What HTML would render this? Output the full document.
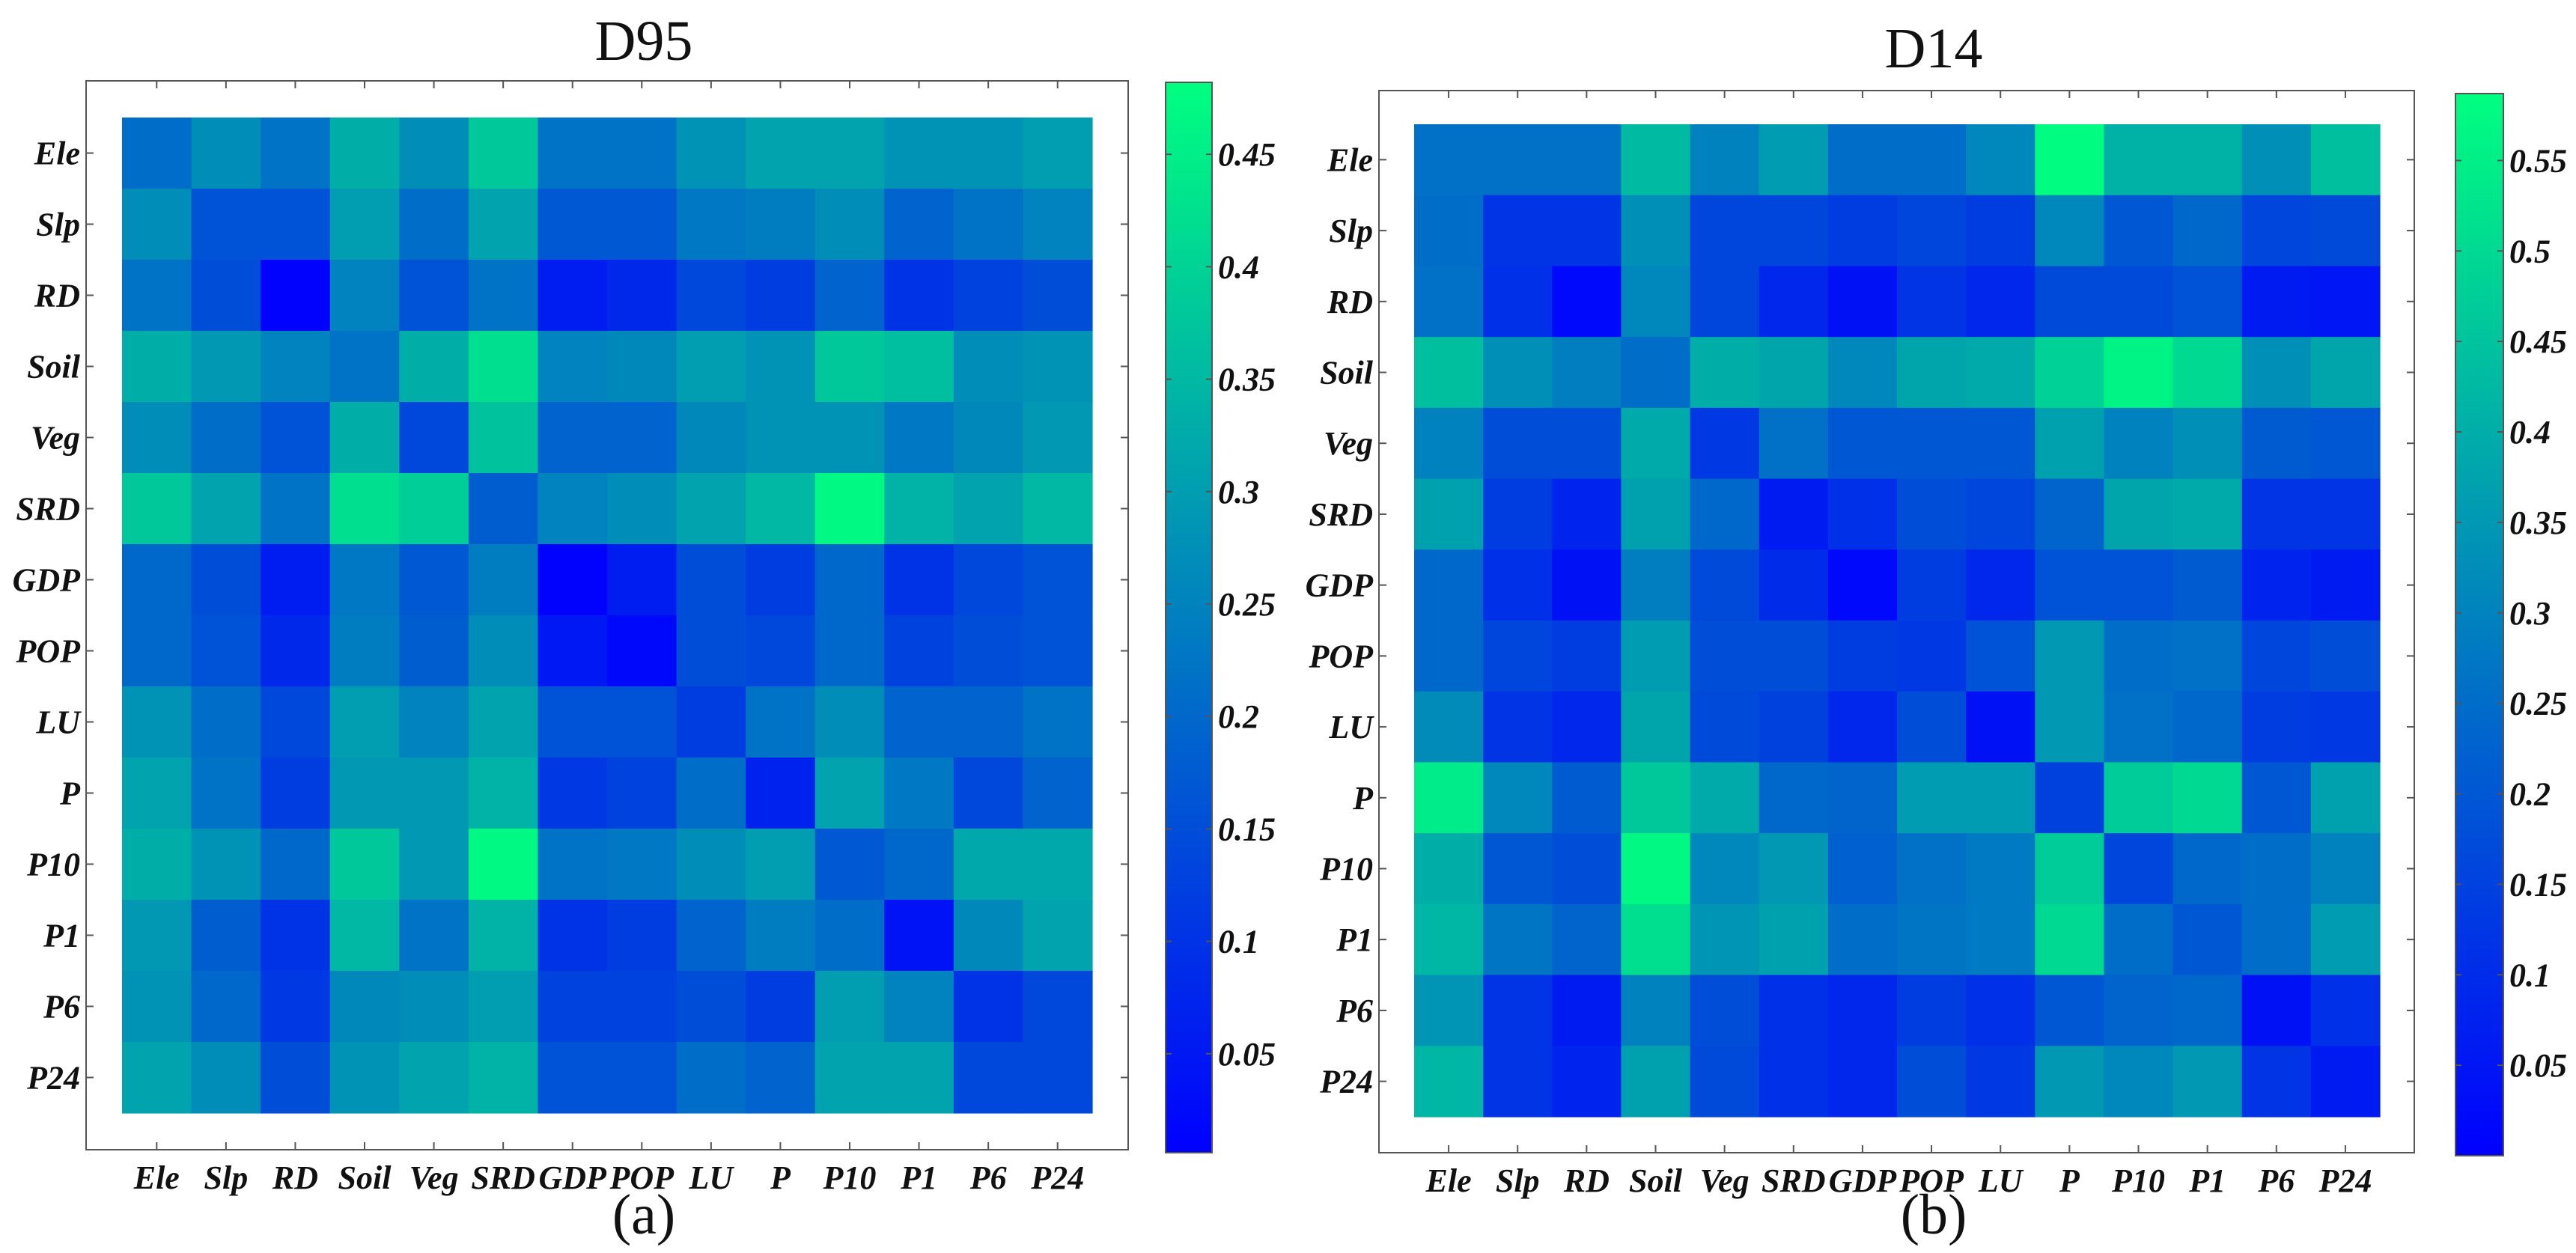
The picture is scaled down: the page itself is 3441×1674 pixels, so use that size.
<!DOCTYPE html>
<html><head><meta charset="utf-8">
<style>
html,body{margin:0;padding:0;background:#fff;}
svg{display:block;}
text{font-family:"Liberation Serif","Times New Roman",serif;}
.tk{font-style:italic;font-weight:bold;font-size:44px;fill:#111;}
.ttl{font-size:76px;fill:#111;}
</style></head>
<body>
<svg id="chart" width="3441" height="1674" viewBox="0 0 3441 1674" xmlns="http://www.w3.org/2000/svg"></svg>
<script>
const categories = ["Ele","Slp","RD","Soil","Veg","SRD","GDP","POP","LU","P","P10","P1","P6","P24"];
const d95Values = [
[0.21,0.27,0.22,0.33,0.27,0.38,0.22,0.22,0.28,0.31,0.31,0.28,0.28,0.30],
[0.27,0.16,0.16,0.30,0.21,0.31,0.17,0.17,0.23,0.24,0.27,0.19,0.22,0.25],
[0.22,0.15,0.01,0.25,0.16,0.22,0.06,0.08,0.14,0.12,0.19,0.10,0.13,0.15],
[0.33,0.29,0.25,0.22,0.33,0.42,0.25,0.26,0.30,0.28,0.38,0.36,0.27,0.28],
[0.27,0.21,0.16,0.33,0.14,0.37,0.19,0.19,0.26,0.28,0.28,0.23,0.26,0.29],
[0.38,0.31,0.22,0.42,0.39,0.18,0.25,0.27,0.31,0.35,0.47,0.34,0.31,0.35],
[0.20,0.15,0.06,0.23,0.17,0.24,0.01,0.06,0.15,0.12,0.20,0.10,0.14,0.16],
[0.20,0.16,0.08,0.24,0.18,0.27,0.05,0.02,0.15,0.14,0.20,0.13,0.15,0.16],
[0.28,0.21,0.14,0.30,0.25,0.31,0.16,0.16,0.12,0.22,0.27,0.19,0.19,0.22],
[0.31,0.22,0.12,0.29,0.29,0.34,0.11,0.13,0.21,0.07,0.31,0.23,0.14,0.19],
[0.33,0.28,0.20,0.38,0.29,0.47,0.22,0.23,0.27,0.30,0.17,0.20,0.32,0.32],
[0.29,0.18,0.10,0.35,0.22,0.34,0.10,0.12,0.19,0.24,0.21,0.04,0.26,0.31],
[0.28,0.20,0.11,0.26,0.27,0.30,0.13,0.13,0.15,0.12,0.30,0.25,0.10,0.14],
[0.31,0.27,0.15,0.28,0.31,0.34,0.16,0.16,0.21,0.19,0.31,0.31,0.14,0.14]];
const d14Values = [
[0.26,0.26,0.26,0.43,0.30,0.36,0.25,0.25,0.31,0.58,0.41,0.41,0.33,0.44],
[0.25,0.12,0.12,0.33,0.16,0.16,0.14,0.16,0.14,0.31,0.20,0.24,0.16,0.17],
[0.26,0.11,0.02,0.31,0.16,0.09,0.04,0.12,0.09,0.17,0.17,0.19,0.06,0.05],
[0.44,0.33,0.29,0.25,0.40,0.38,0.31,0.38,0.39,0.48,0.56,0.50,0.33,0.38],
[0.30,0.18,0.18,0.39,0.13,0.26,0.20,0.20,0.20,0.37,0.30,0.33,0.21,0.20],
[0.37,0.14,0.08,0.37,0.24,0.06,0.11,0.18,0.16,0.23,0.38,0.39,0.12,0.12],
[0.24,0.11,0.04,0.29,0.17,0.10,0.02,0.14,0.09,0.19,0.19,0.21,0.08,0.06],
[0.24,0.16,0.14,0.36,0.18,0.18,0.14,0.13,0.19,0.35,0.25,0.26,0.16,0.18],
[0.32,0.12,0.09,0.38,0.17,0.15,0.09,0.18,0.04,0.35,0.26,0.24,0.14,0.13],
[0.54,0.31,0.21,0.46,0.39,0.24,0.23,0.36,0.36,0.15,0.47,0.50,0.20,0.37],
[0.40,0.20,0.18,0.57,0.31,0.35,0.22,0.26,0.28,0.47,0.16,0.24,0.25,0.30],
[0.42,0.27,0.23,0.51,0.34,0.37,0.25,0.27,0.28,0.50,0.25,0.20,0.25,0.36],
[0.34,0.12,0.06,0.30,0.18,0.11,0.09,0.14,0.11,0.20,0.23,0.24,0.04,0.11],
[0.42,0.12,0.08,0.37,0.17,0.11,0.09,0.18,0.13,0.35,0.31,0.35,0.12,0.06]];
const d95Ticks = [0.05,0.1,0.15,0.2,0.25,0.3,0.35,0.4,0.45];
const d95TickLabels = ["0.05","0.1","0.15","0.2","0.25","0.3","0.35","0.4","0.45"];
const d14Ticks = [0.05,0.1,0.15,0.2,0.25,0.3,0.35,0.4,0.45,0.5,0.55];
const d14TickLabels = ["0.05","0.1","0.15","0.2","0.25","0.3","0.35","0.4","0.45","0.5","0.55"];
const d95Range = [0.006,0.482];
const d14Range = [0.0,0.587];

const NS="http://www.w3.org/2000/svg";
const FF='"Liberation Serif", serif';
const svg=document.getElementById('chart');
function mk(tag,attrs,parent){const e=document.createElementNS(NS,tag);for(const k in attrs)e.setAttribute(k,attrs[k]);if(tag==='text')e.setAttribute('font-family',FF);(parent||svg).appendChild(e);return e;}
function winter(t){t=Math.max(0,Math.min(1,t));return `rgb(0,${Math.round(255*t)},${Math.round(255*(1-0.5*t))})`;}

function panel(cfg){
  const g=mk('g',{});
  
  
  const [vmin,vmax]=cfg.range;
  const n=categories.length;
  const cw=(cfg.hx1-cfg.hx0)/n, ch=(cfg.hy1-cfg.hy0)/n;
  const xs=i=>cfg.hx0+i*cw, ys=i=>cfg.hy0+i*ch;
  const cscale=v=>(v-vmin)/(vmax-vmin);
  const fr=mk('rect',{x:cfg.fx0,y:cfg.fy0,width:cfg.fx1-cfg.fx0,height:cfg.fy1-cfg.fy0,fill:'#fff',stroke:'#555','stroke-width':2},g);
  
  
  cfg.values.forEach((row,r)=>row.forEach((v,c)=>{
    const cell=mk('rect',{x:xs(c),y:ys(r),width:cw+0.6,height:ch+0.6,fill:winter(cscale(v))},g);
    
    
  }));
  categories.forEach((lab,i)=>{
    const cx=xs(i)+cw/2, cy=ys(i)+ch/2;
    mk('line',{x1:cfg.fx0,x2:cfg.fx0+10,y1:cy,y2:cy,stroke:'#555','stroke-width':2},g);
    mk('line',{x1:cfg.fx1-10,x2:cfg.fx1,y1:cy,y2:cy,stroke:'#555','stroke-width':2},g);
    mk('line',{x1:cx,x2:cx,y1:cfg.fy1-10,y2:cfg.fy1,stroke:'#555','stroke-width':2},g);
    mk('line',{x1:cx,x2:cx,y1:cfg.fy0,y2:cfg.fy0+10,stroke:'#555','stroke-width':2},g);
    const yl=mk('text',{x:cfg.fx0-8,y:cy+15,'text-anchor':'end',class:'tk'},g);
    yl.textContent=lab;
    
    
    const xl=mk('text',{x:cx,y:cfg.fy1+52,'text-anchor':'middle',class:'tk'},g);
    xl.textContent=lab;
    
    
  });
  const defs=mk('defs',{},g);
  const grad=mk('linearGradient',{id:cfg.name+'-grad',x1:0,y1:1,x2:0,y2:0},defs);
  for(let k=0;k<=10;k++){mk('stop',{offset:k/10,'stop-color':winter(k/10)},grad);}
  const cb=mk('rect',{x:cfg.cx0,y:cfg.cy0,width:cfg.cx1-cfg.cx0,height:cfg.cy1-cfg.cy0,fill:`url(#${cfg.name}-grad)`,stroke:'#555','stroke-width':2},g);
  
  
  const cby=v=>cfg.cy1-(v-vmin)/(vmax-vmin)*(cfg.cy1-cfg.cy0);
  cfg.ticks.forEach((t,i)=>{
    const y=cby(t);
    mk('line',{x1:cfg.cx0,x2:cfg.cx0+8,y1:y,y2:y,stroke:'#555','stroke-width':2},g);
    mk('line',{x1:cfg.cx1-8,x2:cfg.cx1,y1:y,y2:y,stroke:'#555','stroke-width':2},g);
    const tl=mk('text',{x:cfg.cx1+8,y:y+15,class:'tk'},g);
    tl.textContent=cfg.tickLabels[i];
    
    
  });
  const tt=mk('text',{x:cfg.tx,y:cfg.ty,'text-anchor':'middle',class:'ttl'},g);
  tt.textContent=cfg.title;
  
  
  const sl=mk('text',{x:cfg.tx,y:1648,'text-anchor':'middle',class:'ttl'},g);
  sl.textContent=cfg.sub;
  
  
}
panel({name:'d95-panel',values:d95Values,range:d95Range,ticks:d95Ticks,tickLabels:d95TickLabels,
  fx0:115,fx1:1507,fy0:108,fy1:1536,hx0:163,hx1:1459,hy0:157,hy1:1487,
  cx0:1557,cx1:1619,cy0:110,cy1:1540,tx:860,ty:80,title:'D95',sub:'(a)'});
panel({name:'d14-panel',values:d14Values,range:d14Range,ticks:d14Ticks,tickLabels:d14TickLabels,
  fx0:1842,fx1:3225,fy0:121,fy1:1540,hx0:1889,hx1:3179,hy0:166,hy1:1492,
  cx0:3280,cx1:3344,cy0:125,cy1:1544,tx:2583,ty:90,title:'D14',sub:'(b)'});
</script>
</body></html>
